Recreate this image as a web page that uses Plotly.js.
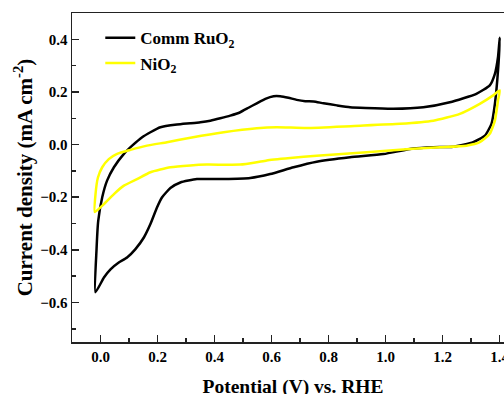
<!DOCTYPE html>
<html>
<head>
<meta charset="utf-8">
<script src="https://cdn.plot.ly/plotly-3.0.1.min.js"></script>
<style>
html, body { margin: 0; padding: 0; overflow: hidden; background: #fff; }
#chart { width: 530px; height: 404px; }
</style>
</head>
<body>
<div id="chart"></div>
<script>
// Comm RuO2 CV loop (anodic branch then cathodic branch)
const ruo2Potential = [
  -0.018, -0.014, -0.008, 0.006, 0.023, 0.047, 0.082, 0.111, 0.146, 0.175, 0.21, 0.268, 0.315, 0.35, 0.385, 0.42, 0.455, 0.49, 0.519, 0.548, 0.578, 0.607, 0.63, 0.659, 0.688, 0.718, 0.747, 0.782, 0.829, 0.875, 0.93, 1.027, 1.132, 1.225, 1.318, 1.365, 1.383, 1.394, 1.40,
  1.394, 1.383, 1.371, 1.348, 1.307, 1.237, 1.167, 1.097, 0.992, 0.875, 0.758, 0.677, 0.595, 0.525, 0.432, 0.338, 0.28, 0.245, 0.216, 0.198, 0.175, 0.152, 0.1225, 0.093, 0.064, 0.035, 0.012, -0.018
];
const ruo2Current = [
  -0.561, -0.40, -0.29, -0.20, -0.137, -0.086, -0.035, -0.004, 0.028, 0.047, 0.066, 0.076, 0.081, 0.085, 0.091, 0.100, 0.110, 0.123, 0.140, 0.157, 0.174, 0.184, 0.184, 0.178, 0.170, 0.165, 0.164, 0.157, 0.149, 0.142, 0.139, 0.136, 0.142, 0.161, 0.193, 0.225, 0.269, 0.333, 0.406,
  0.282, 0.155, 0.079, 0.034, 0.009, -0.008, -0.010, -0.015, -0.036, -0.048, -0.065, -0.086, -0.112, -0.127, -0.131, -0.131, -0.144, -0.165, -0.20, -0.239, -0.302, -0.353, -0.397, -0.429, -0.448, -0.474, -0.505, -0.561
];
// NiO2 CV loop
const nio2Potential = [
  -0.020, -0.0175, -0.009, 0.006, 0.029, 0.058, 0.105, 0.163, 0.233, 0.32, 0.432, 0.548, 0.618, 0.723, 0.89, 1.05, 1.167, 1.26, 1.33, 1.377, 1.40,
  1.394, 1.383, 1.365, 1.33, 1.283, 1.19, 1.097, 0.933, 0.758, 0.665, 0.583, 0.548, 0.49, 0.373, 0.315, 0.245, 0.175, 0.128, 0.082, 0.047, 0.012, -0.020
];
const nio2Current = [
  -0.256, -0.188, -0.125, -0.086, -0.055, -0.035, -0.020, -0.004, 0.009, 0.027, 0.047, 0.062, 0.066, 0.063, 0.071, 0.079, 0.091, 0.117, 0.155, 0.187, 0.206,
  0.168, 0.091, 0.041, 0.009, -0.004, -0.010, -0.016, -0.029, -0.042, -0.051, -0.060, -0.067, -0.076, -0.076, -0.079, -0.086, -0.105, -0.131, -0.156, -0.188, -0.226, -0.256
];
const seriesNames = ['Comm RuO<sub>2</sub>', 'NiO<sub>2</sub>'];
const xTitle = 'Potential (V) vs. RHE';
const yTitle = 'Current density (mA cm<sup>-2</sup>)';

const FONT = 'Liberation Serif, Times New Roman, serif';

const traces = [
  { x: ruo2Potential, y: ruo2Current, name: seriesNames[0], mode: 'lines',
    line: { color: '#000000', width: 2.5, shape: 'spline', smoothing: 0.5 } },
  { x: nio2Potential, y: nio2Current, name: seriesNames[1], mode: 'lines',
    line: { color: '#ffff00', width: 2.5, shape: 'spline', smoothing: 0.5 } }
];

const axisCommon = {
  showline: true, linecolor: '#222', linewidth: 1.5, mirror: true,
  showgrid: false, zeroline: false,
  ticks: 'inside', ticklen: 7, tickwidth: 1.5, tickcolor: '#222',
  tickfont: { family: FONT, size: 15, color: '#000', weight: 'bold' },
  minor: { ticks: 'inside', ticklen: 4, tickwidth: 1.5, tickcolor: '#222' },
  automargin: false
};

const layout = {
  width: 530, height: 404,
  margin: { l: 72, r: 16, t: 13, b: 62 },
  paper_bgcolor: '#fff', plot_bgcolor: '#fff',
  showlegend: true,
  legend: {
    x: 0.064, y: 0.978, xanchor: 'left', yanchor: 'top',
    bgcolor: 'rgba(0,0,0,0)',
    font: { family: FONT, size: 17, color: '#000', weight: 'bold' }
  },
  xaxis: Object.assign({}, axisCommon, {
    range: [-0.1, 1.45], tick0: 0, dtick: 0.2, tickformat: '.1f',
    minor: Object.assign({}, axisCommon.minor, { dtick: 0.1, tick0: 0 }),
    title: { text: xTitle, font: { family: FONT, size: 19.5, color: '#000', weight: 'bold' }, standoff: 16 }
  }),
  yaxis: Object.assign({}, axisCommon, {
    range: [-0.75, 0.5], tick0: 0, dtick: 0.2, tickformat: '.1f',
    minor: Object.assign({}, axisCommon.minor, { dtick: 0.1, tick0: 0 }),
    title: { text: yTitle, font: { family: FONT, size: 21, color: '#000', weight: 'bold' }, standoff: 2 }
  })
};

Plotly.newPlot('chart', traces, layout, { displayModeBar: false, staticPlot: true });
</script>
</body>
</html>
